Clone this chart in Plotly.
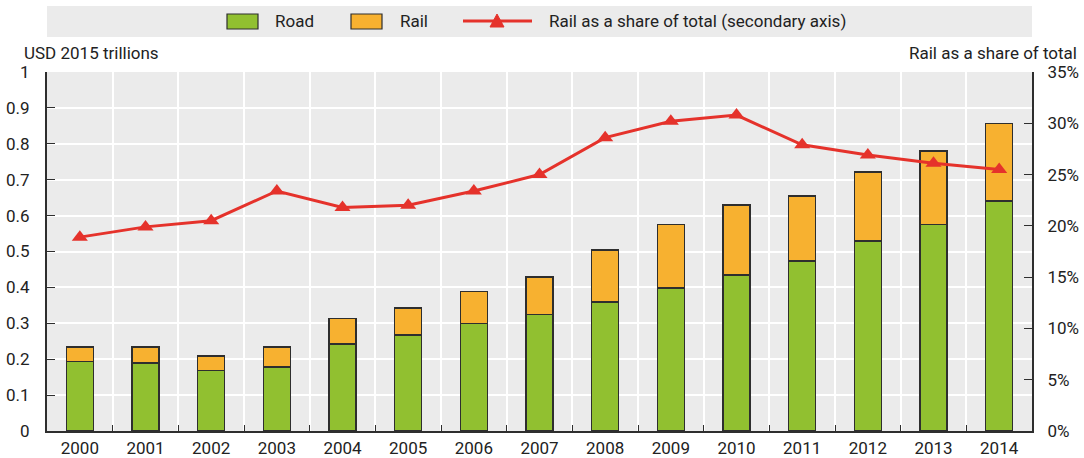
import plotly.graph_objects as go

# Road and rail infrastructure values (USD 2015 trillions) and rail share of total
years = [str(y) for y in range(2000, 2015)]
road = [0.194, 0.189, 0.169, 0.178, 0.243, 0.268, 0.299, 0.324, 0.359, 0.399,
        0.435, 0.474, 0.529, 0.575, 0.640]
rail = [0.040, 0.045, 0.040, 0.056, 0.071, 0.075, 0.090, 0.105, 0.145, 0.176,
        0.195, 0.181, 0.192, 0.205, 0.216]
rail_share = [0.189, 0.199, 0.205, 0.234, 0.218, 0.220, 0.234, 0.250, 0.286, 0.302,
              0.308, 0.279, 0.269, 0.261, 0.255]

left_ticks = [0, 0.1, 0.2, 0.3, 0.4, 0.5, 0.6, 0.7, 0.8, 0.9, 1]
left_tick_text = ["0", "0.1", "0.2", "0.3", "0.4", "0.5", "0.6", "0.7", "0.8", "0.9", "1"]
right_ticks = [0, 0.05, 0.10, 0.15, 0.20, 0.25, 0.30, 0.35]

GREEN = "#91c030"
ORANGE = "#f7b130"
RED = "#e5322b"
BG = "#ebebeb"
EDGE = "#2e2e2e"
FONT = "Roboto, 'Liberation Sans', Arial, sans-serif"
TXT = "#222222"

W, H = 1084, 458
L, R, T, B = 47, 52, 72, 27
PW, PH = W - L - R, H - T - B


def px(x):
    return (x - L) / PW


def py(y):
    return (H - B - y) / PH


fig = go.Figure()
fig.add_trace(go.Bar(x=years, y=road, name="Road", marker=dict(color=GREEN, line=dict(color=EDGE, width=1.5))))
fig.add_trace(go.Bar(x=years, y=rail, name="Rail", marker=dict(color=ORANGE, line=dict(color=EDGE, width=1.5))))
fig.add_trace(go.Scatter(x=years, y=rail_share, name="Rail as a share of total (secondary axis)",
                         yaxis="y2", mode="lines+markers",
                         line=dict(color=RED, width=3),
                         marker=dict(symbol="triangle-up", size=14, color=RED)))

shapes = [
    # legend band
    dict(type="rect", xref="paper", yref="paper", x0=px(47), x1=px(1032), y0=py(37), y1=py(6),
         fillcolor=BG, line=dict(width=0), layer="below"),
    dict(type="rect", xref="paper", yref="paper", x0=px(227), x1=px(258), y0=py(29), y1=py(14),
         fillcolor=GREEN, line=dict(color=EDGE, width=1.2)),
    dict(type="rect", xref="paper", yref="paper", x0=px(351), x1=px(382), y0=py(29), y1=py(14),
         fillcolor=ORANGE, line=dict(color=EDGE, width=1.2)),
    dict(type="line", xref="paper", yref="paper", x0=px(463), x1=px(532), y0=py(21), y1=py(21),
         line=dict(color=RED, width=3)),
    dict(type="path", xref="paper", yref="paper",
         path=f"M {px(490)},{py(27)} L {px(504)},{py(27)} L {px(497)},{py(14)} Z",
         fillcolor=RED, line=dict(color=RED, width=1)),
]

annotations = [
    dict(text="Road", xref="paper", yref="paper", x=px(273), y=py(21), xanchor="left", yanchor="middle",
         showarrow=False, font=dict(size=17, color=TXT, family=FONT)),
    dict(text="Rail", xref="paper", yref="paper", x=px(398), y=py(21), xanchor="left", yanchor="middle",
         showarrow=False, font=dict(size=17, color=TXT, family=FONT)),
    dict(text="Rail as a share of total (secondary axis)", xref="paper", yref="paper", x=px(547), y=py(21),
         xanchor="left", yanchor="middle", showarrow=False, font=dict(size=17, color=TXT, family=FONT)),
    dict(text="USD 2015 trillions", xref="paper", yref="paper", x=px(22), y=py(53), xanchor="left",
         yanchor="middle", showarrow=False, font=dict(size=17, color=TXT, family=FONT)),
    dict(text="Rail as a share of total", xref="paper", yref="paper", x=px(1079), y=py(53), xanchor="right",
         yanchor="middle", showarrow=False, font=dict(size=17, color=TXT, family=FONT)),
]

fig.update_layout(
    width=W, height=H,
    margin=dict(l=L, r=R, t=T, b=B, pad=0, autoexpand=False),
    paper_bgcolor="white", plot_bgcolor=BG,
    barmode="stack", bargap=0.59,
    showlegend=False,
    font=dict(family=FONT, size=17, color=TXT),
    shapes=shapes, annotations=annotations,
    xaxis=dict(type="category", range=[-0.5, len(years) - 0.5], tickson="boundaries", ticks="inside",
               ticklen=6, tickcolor=EDGE,
               showgrid=True, gridcolor="white", gridwidth=1.5, automargin=False,
               showline=True, linecolor=EDGE, linewidth=2, ticklabelstandoff=1,
               tickfont=dict(size=17, color=TXT, family=FONT)),
    yaxis=dict(range=[0, 1], tickvals=left_ticks, ticktext=left_tick_text, ticks="inside", ticklen=8,
               tickcolor=EDGE, showgrid=True, gridcolor="white", gridwidth=1.5, zeroline=False,
               showline=True, linecolor=EDGE, linewidth=2, ticklabelstandoff=12, automargin=False,
               tickfont=dict(size=17, color=TXT, family=FONT)),
    yaxis2=dict(range=[0, 0.35], tickvals=right_ticks, tickformat=".0%", overlaying="y", side="right",
                ticks="inside", ticklen=8, tickcolor=EDGE, showgrid=False, zeroline=False,
                showline=True, linecolor=EDGE, linewidth=2, ticklabelstandoff=10, automargin=False,
                tickfont=dict(size=17, color=TXT, family=FONT)),
)

fig.write_html("out.html")
